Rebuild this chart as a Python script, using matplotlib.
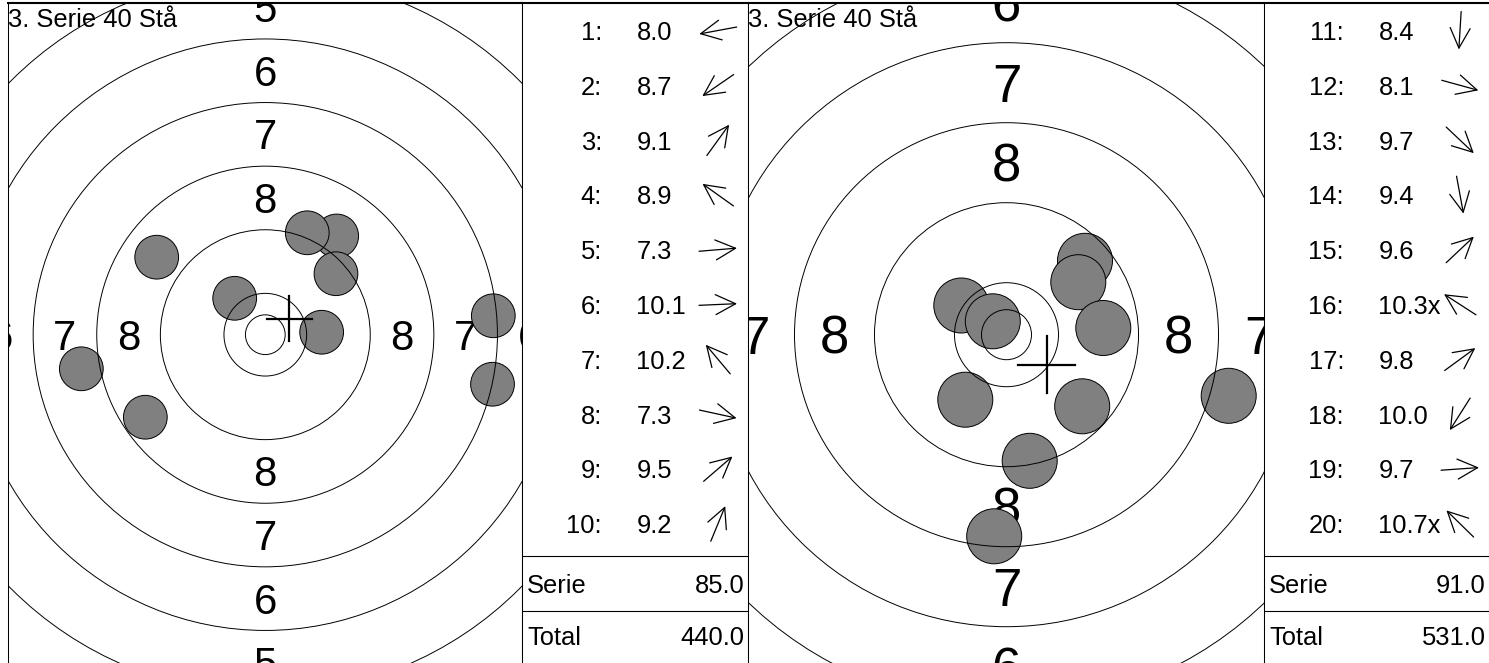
import numpy as np
import matplotlib
matplotlib.use("Agg")
import matplotlib.pyplot as plt
from matplotlib.patches import Circle

plt.rcParams['font.family'] = ['Liberation Sans', 'DejaVu Sans']

W, H, DPI = 1489, 663, 100

# shot positions in mm from target centre (x right, y up), in shot order
left_nums = list(range(1, 11))
left_x = [-23.14, -15.09, 8.98, -13.66, 28.68, 7.09, -3.85, 28.58, 8.89, 5.28]
left_y = [-4.29, -10.38, 12.42, 9.75, 2.38, 0.31, 4.58, -6.23, 7.67, 12.82]
left_scores = ["8.0", "8.7", "9.1", "8.9", "7.3", "10.1", "10.2", "7.3", "9.5", "9.2"]
left_group = (3.01, 2.0)
left_serie = "85.0"
left_total = "440.0"

right_nums = list(range(11, 21))
right_x = [-1.23, 22.22, 7.57, 2.32, 7.85, -4.52, 7.18, -4.12, 9.68, -1.37]
right_y = [-20.16, -6.11, -7.16, -12.61, 7.39, 2.92, 5.25, -6.50, 0.67, 1.34]
right_scores = ["8.4", "8.1", "9.7", "9.4", "9.6", "10.3x", "9.8", "10.0", "9.7", "10.7x"]
right_group = (4.02, -3.03)
right_serie = "91.0"
right_total = "531.0"

title = "3. Serie 40 Stå"
ring_labels = [1, 2, 3, 4, 5, 6, 7, 8]

SHOT_R = 2.75
X_RING = 2.5


def ring_radius(n):
    return 5.2 + 8.0 * (10 - n)


def rect(x0, y0, x1, y1):
    return [x0 / W, 1 - y1 / H, (x1 - x0) / W, (y1 - y0) / H]


fig = plt.figure(figsize=(W / DPI, H / DPI), dpi=DPI)


def draw_target(x0, x1, cx, cy, scale, xs, ys, group):
    y0, y1 = 2.5, 672
    ax = fig.add_axes(rect(x0, y0, x1, y1))
    xl = ((x0 - cx) / scale, (x1 - cx) / scale)
    yl = ((cy - y1) / scale, (cy - y0) / scale)
    ax.set_xlim(*xl)
    ax.set_ylim(*yl)
    ax.set_xticks([])
    ax.set_yticks([])
    for s in ax.spines.values():
        s.set_linewidth(0.75)
    ax.spines['top'].set_linewidth(1.5)

    # rings
    radii = [X_RING] + [ring_radius(n) for n in range(10, 0, -1)]
    for r in radii:
        ax.add_patch(Circle((0, 0), r, fill=False, ec='black', lw=0.7, zorder=3))

    # ring numbers (only the ones that can show inside the axes)
    em = 5.27
    fs = em * scale * 72 / DPI
    off = 0.358 * em
    half = 0.4 * em
    for n in ring_labels:
        r = ring_radius(n) - 4.0
        for (tx, ty) in [(0, r), (0, -r), (-r, 0), (r, 0)]:
            if tx - half > xl[1] or tx + half < xl[0]:
                continue
            if ty - half > yl[1] or ty + half < yl[0]:
                continue
            ax.text(tx, ty - off, str(n), ha='center', va='baseline',
                    fontsize=fs, zorder=1, clip_on=True)

    # shots
    for x, y in zip(xs, ys):
        ax.add_patch(Circle((x, y), SHOT_R, fc='#808080', ec='black', lw=0.7, zorder=2))

    # group centre cross
    gx, gy = group
    c = 2.85
    ax.plot([gx - c, gx + c], [gy, gy], color='black', lw=1.6, zorder=4)
    ax.plot([gx, gx], [gy - c, gy + c], color='black', lw=1.6, zorder=4)

    fig.text((x0 + 0.5) / W, 1 - 27 / H, title, fontsize=18.4, va='baseline', ha='left', zorder=5)
    return ax


def draw_table(x0, x1, nums, scores, xs, ys, serie, total):
    y0, y1 = 2.5, 672
    ax = fig.add_axes(rect(x0, y0, x1, y1))
    w = x1 - x0
    ax.set_xlim(0, w)
    ax.set_ylim(y1, y0)
    ax.set_xticks([])
    ax.set_yticks([])
    for s in ax.spines.values():
        s.set_linewidth(0.75)
    ax.spines['top'].set_linewidth(1.5)

    fs = 18.4
    for i, (n, sc, x, y) in enumerate(zip(nums, scores, xs, ys)):
        base = 40 + 54.8 * i
        ax.text(80, base, f"{n}:", ha='right', va='baseline', fontsize=fs)
        ax.text(114.5, base, sc, ha='left', va='baseline', fontsize=fs)
        ang = np.arctan2(y, x)
        ux, uy = np.cos(ang), -np.sin(ang)
        mx, my = 196, base - 9.5
        L = 19
        ax.annotate('', xy=(mx + L * ux, my + L * uy), xytext=(mx - L * ux, my - L * uy),
                    arrowprops=dict(arrowstyle='->,head_length=0.72,head_width=0.36',
                                    mutation_scale=20, lw=0.9, color='black',
                                    shrinkA=0, shrinkB=0))

    ax.axhline(556, color='black', lw=0.8)
    ax.axhline(611, color='black', lw=0.8)
    ax.text(5, 593, "Serie", ha='left', va='baseline', fontsize=fs)
    ax.text(w - 3.5, 593, serie, ha='right', va='baseline', fontsize=fs)
    ax.text(5, 645, "Total", ha='left', va='baseline', fontsize=fs)
    ax.text(w - 3.5, 645, total, ha='right', va='baseline', fontsize=fs)
    return ax


draw_target(8, 522, 265.3, 334.7, 7.95, left_x, left_y, left_group)
draw_table(522, 748, left_nums, left_scores, left_x, left_y, left_serie, left_total)
draw_target(748, 1264, 1006.5, 334.7, 10.0, right_x, right_y, right_group)
draw_table(1264, 1489, right_nums, right_scores, right_x, right_y, right_serie, right_total)

fig.savefig("out.png", dpi=DPI)
